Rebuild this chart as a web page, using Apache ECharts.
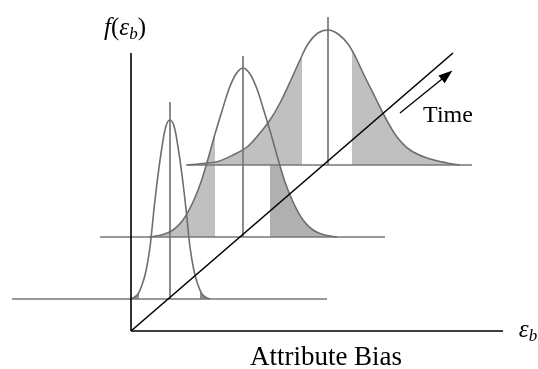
<!DOCTYPE html>
<html>
<head>
<meta charset="utf-8">
<script src="https://cdn.jsdelivr.net/npm/echarts@6/dist/echarts.min.js"></script>
<style>
  html, body { margin: 0; padding: 0; background: #ffffff; }
  #chart { width: 538px; height: 369px; }
</style>
</head>
<body>
<div id="chart"></div>
<script>
// Density of the attribute bias f(εb) at three successive times.
// Each later curve sits further along the time diagonal, on its own baseline.

// Mean of each curve on the bias axis, and the height of its baseline (front, middle, back)
const curveCenters = [39, 112, 197];
const curveBases = [32, 94, 166];

// Sampled profiles: offset from the mean and density above the curve's baseline
const frontOffsets = [-40, -36, -32, -28, -24, -20, -16, -12, -8, -4, 0, 4, 8, 12, 16, 20, 24, 28, 32, 36, 40];
const frontDensity = [0, 1.5, 5, 14, 28, 52, 90, 124, 152, 173, 179, 173, 152, 124, 90, 52, 28, 14, 5, 1.5, 0];

const middleOffsets = [-94, -80, -70, -60, -50, -42, -35, -28, -21, -14, -7, 0, 7, 14, 21, 28, 35, 42, 50, 60, 70, 80, 94];
const middleDensity = [0, 2.5, 7, 17, 35, 55, 78, 103, 126, 148, 163, 169, 163, 148, 126, 103, 78, 55, 35, 17, 7, 2.5, 0];

const backOffsets = [-140, -125, -110, -95, -81, -68, -58, -48, -38, -28, -20, -10, 0, 10, 20, 28, 36, 47, 57, 69, 82, 99, 119, 132];
const backDensity = [0, 1.5, 3.5, 10, 18, 32, 45, 62, 83, 105, 121, 132, 135, 131, 121, 107, 90, 68, 48, 28, 15, 7, 2, 0];

// Extent of each baseline (offset from the mean) and height of the mean marker
const baselineFrom = [-158, -143, -142];
const baselineTo = [157, 142, 144];
const meanMarkerHeights = [197, 181, 148];

// Shaded tails: which curve, and the offset range that is shaded
const tailCurve = [0, 0, 1, 1, 2, 2];
const tailFrom = [-40, 30, -94, 27, -140, 24];
const tailTo = [-31, 40, -28, 94, -26, 132];

// Length of the bias axis, the density axis and the time diagonal
const biasAxisLength = 372;
const densityAxisLength = 278;
const timeAxisEnd = [322, 278];

const profiles = [
  { offsets: frontOffsets, density: frontDensity },
  { offsets: middleOffsets, density: middleDensity },
  { offsets: backOffsets, density: backDensity }
];

// ---- presentation ----
const serif = 'Liberation Serif, Times New Roman, serif';
const curveColor = '#6e6e6e';
const guideColor = '#777777';
const tailColors = ['#8e8e8e', '#8e8e8e', '#c0c0c0', '#b0b0b0', '#c0c0c0', '#c0c0c0'];

function densityAt(p, off) {
  const o = p.offsets, d = p.density;
  if (off <= o[0]) return d[0];
  for (let i = 1; i < o.length; i++) {
    if (off <= o[i]) {
      const f = (off - o[i - 1]) / (o[i] - o[i - 1]);
      return d[i - 1] + f * (d[i] - d[i - 1]);
    }
  }
  return d[d.length - 1];
}

function curveData(k) {
  const p = profiles[k];
  return p.offsets.map((o, i) => [curveCenters[k] + o, curveBases[k] + p.density[i]]);
}

const chart = echarts.init(document.getElementById('chart'), null, { renderer: 'canvas' });

const series = [];

// shaded tail areas, drawn beneath every outline
series.push({
  type: 'custom',
  name: 'tails',
  coordinateSystem: 'cartesian2d',
  z: 1,
  silent: true,
  data: tailCurve.map((c, i) => [i]),
  renderItem: function (params, api) {
    const i = params.dataIndex;
    const k = tailCurve[i];
    const p = profiles[k];
    const cx = curveCenters[k], base = curveBases[k];
    const a = tailFrom[i], b = tailTo[i];
    const pts = [api.coord([cx + a, base])];
    pts.push(api.coord([cx + a, base + densityAt(p, a)]));
    p.offsets.forEach((o, j) => {
      if (o > a && o < b) pts.push(api.coord([cx + o, base + p.density[j]]));
    });
    pts.push(api.coord([cx + b, base + densityAt(p, b)]));
    pts.push(api.coord([cx + b, base]));
    return {
      type: 'polygon',
      shape: { points: pts },
      style: { fill: tailColors[i], stroke: null }
    };
  }
});

for (let k = 0; k < 3; k++) {
  // baseline of the curve
  series.push({
    type: 'line', z: 3, silent: true, clip: false, symbol: 'none',
    lineStyle: { color: guideColor, width: 1.7 },
    data: [[curveCenters[k] + baselineFrom[k], curveBases[k]], [curveCenters[k] + baselineTo[k], curveBases[k]]]
  });
  // marker at the mean
  series.push({
    type: 'line', z: 3, silent: true, clip: false, symbol: 'none',
    lineStyle: { color: guideColor, width: 1.7 },
    data: [[curveCenters[k], curveBases[k]], [curveCenters[k], curveBases[k] + meanMarkerHeights[k]]]
  });
  // density outline
  series.push({
    type: 'line', z: 4, silent: true, clip: false, symbol: 'none', smooth: 0.35,
    lineStyle: { color: curveColor, width: 1.6 },
    data: curveData(k)
  });
}

const labelRich = {
  it: { fontFamily: serif, fontStyle: 'italic', fontSize: 25, color: '#000', lineHeight: 30 },
  up: { fontFamily: serif, fontSize: 25, color: '#000', lineHeight: 30 },
  sub: { fontFamily: serif, fontStyle: 'italic', fontSize: 17, color: '#000', lineHeight: 14, verticalAlign: 'bottom' }
};

function textPoint(coord, formatter, extra) {
  return {
    coord: coord,
    symbol: 'circle',
    symbolSize: 0,
    label: Object.assign({
      show: true, position: 'inside', formatter: formatter,
      fontFamily: serif, color: '#000', rich: labelRich
    }, extra || {})
  };
}

// density axis (vertical) with its name
series.push({
  type: 'line', z: 5, silent: true, clip: false, symbol: 'none',
  lineStyle: { color: '#000000', width: 1.6 },
  data: [[0, 0], [0, densityAxisLength]],
  markPoint: {
    silent: true,
    data: [textPoint([-6, 303], '{it|f}{up|(}{it|ε}{sub|b}{up|)}')]
  }
});

// bias axis (horizontal) with its symbol and title
series.push({
  type: 'line', z: 5, silent: true, clip: false, symbol: 'none',
  lineStyle: { color: '#000000', width: 1.6 },
  data: [[0, 0], [biasAxisLength, 0]],
  markPoint: {
    silent: true,
    data: [
      textPoint([397, 1], '{it|ε}{sub|b}'),
      textPoint([195, -27], 'Attribute Bias', { fontSize: 27 })
    ]
  }
});

// time diagonal with its arrow and label
series.push({
  type: 'line', z: 5, silent: true, clip: false, symbol: 'none',
  lineStyle: { color: '#000000', width: 1.6 },
  data: [[0, 0], timeAxisEnd],
  markLine: {
    silent: true,
    symbol: ['none', 'triangle'],
    symbolSize: [10, 14],
    label: { show: false },
    lineStyle: { color: '#000000', width: 1.3, type: 'solid' },
    data: [[{ coord: [269, 218] }, { coord: [316, 256] }]]
  },
  markPoint: {
    silent: true,
    data: [textPoint([317, 215], 'Time', { fontSize: 24 })]
  }
});

const hiddenAxis = {
  show: false,
  axisLine: { show: false },
  axisTick: { show: false },
  axisLabel: { show: false },
  splitLine: { show: false }
};

chart.setOption({
  animation: false,
  backgroundColor: '#ffffff',
  grid: { left: 0, right: 0, top: 0, bottom: 0 },
  xAxis: Object.assign({ type: 'value', min: -131, max: 407 }, hiddenAxis),
  yAxis: Object.assign({ type: 'value', min: -38, max: 331 }, hiddenAxis),
  series: series
});
</script>
</body>
</html>
